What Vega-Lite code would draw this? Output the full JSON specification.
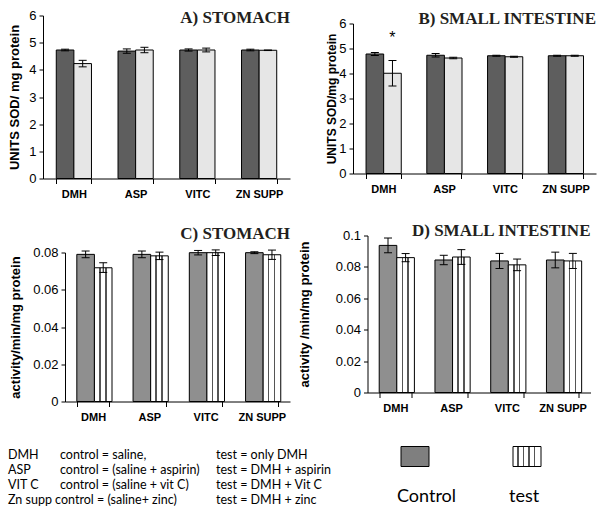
{
  "$schema": "https://vega.github.io/schema/vega-lite/v6.json",
  "padding": {"left": 8, "top": 8.5, "right": 3, "bottom": 2},
  "background": "white",
  "config": {
    "view": {"stroke": null},
    "font": "Liberation Sans",
    "axis": {"grid": false, "domainColor": "black", "tickColor": "black", "labelColor": "black", "titleColor": "black", "labelFont": "Liberation Sans", "titleFont": "Liberation Sans", "domainWidth": 1, "tickWidth": 1},
    "axisY": {"labelFontSize": 13, "tickSize": 4, "labelPadding": 3, "titleFontSize": 13, "titleFontWeight": "bold", "labelOverlap": false},
    "title": {"font": "Liberation Serif", "fontSize": 17, "fontWeight": "bold", "color": "#231f20", "anchor": "end", "frame": "group", "baseline": "alphabetic"}
  },
  "datasets": {
    "bars": [
      {"panel": "A", "drug": "DMH", "series": "control", "value": 4.73, "lo": 4.70, "hi": 4.76},
      {"panel": "A", "drug": "DMH", "series": "test", "value": 4.23, "lo": 4.11, "hi": 4.35},
      {"panel": "A", "drug": "ASP", "series": "control", "value": 4.69, "lo": 4.61, "hi": 4.77},
      {"panel": "A", "drug": "ASP", "series": "test", "value": 4.73, "lo": 4.63, "hi": 4.83},
      {"panel": "A", "drug": "VITC", "series": "control", "value": 4.73, "lo": 4.69, "hi": 4.77},
      {"panel": "A", "drug": "VITC", "series": "test", "value": 4.73, "lo": 4.66, "hi": 4.80},
      {"panel": "A", "drug": "ZN SUPP", "series": "control", "value": 4.73, "lo": 4.70, "hi": 4.76},
      {"panel": "A", "drug": "ZN SUPP", "series": "test", "value": 4.72, "lo": 4.71, "hi": 4.73},
      {"panel": "B", "drug": "DMH", "series": "control", "value": 4.78, "lo": 4.72, "hi": 4.84},
      {"panel": "B", "drug": "DMH", "series": "test", "value": 4.01, "lo": 3.50, "hi": 4.52},
      {"panel": "B", "drug": "ASP", "series": "control", "value": 4.73, "lo": 4.66, "hi": 4.80},
      {"panel": "B", "drug": "ASP", "series": "test", "value": 4.62, "lo": 4.59, "hi": 4.65},
      {"panel": "B", "drug": "VITC", "series": "control", "value": 4.71, "lo": 4.69, "hi": 4.73},
      {"panel": "B", "drug": "VITC", "series": "test", "value": 4.67, "lo": 4.65, "hi": 4.69},
      {"panel": "B", "drug": "ZN SUPP", "series": "control", "value": 4.71, "lo": 4.69, "hi": 4.73},
      {"panel": "B", "drug": "ZN SUPP", "series": "test", "value": 4.71, "lo": 4.69, "hi": 4.73},
      {"panel": "C", "drug": "DMH", "series": "control", "value": 0.079, "lo": 0.0772, "hi": 0.0808},
      {"panel": "C", "drug": "DMH", "series": "test", "value": 0.0718, "lo": 0.0693, "hi": 0.0745},
      {"panel": "C", "drug": "ASP", "series": "control", "value": 0.079, "lo": 0.0772, "hi": 0.0808},
      {"panel": "C", "drug": "ASP", "series": "test", "value": 0.0782, "lo": 0.0762, "hi": 0.0802},
      {"panel": "C", "drug": "VITC", "series": "control", "value": 0.0799, "lo": 0.0787, "hi": 0.0811},
      {"panel": "C", "drug": "VITC", "series": "test", "value": 0.0799, "lo": 0.0784, "hi": 0.0814},
      {"panel": "C", "drug": "ZN SUPP", "series": "control", "value": 0.0799, "lo": 0.0794, "hi": 0.0804},
      {"panel": "C", "drug": "ZN SUPP", "series": "test", "value": 0.0788, "lo": 0.0763, "hi": 0.0813},
      {"panel": "D", "drug": "DMH", "series": "control", "value": 0.0937, "lo": 0.089, "hi": 0.0984},
      {"panel": "D", "drug": "DMH", "series": "test", "value": 0.0859, "lo": 0.0833, "hi": 0.0885},
      {"panel": "D", "drug": "ASP", "series": "control", "value": 0.0844, "lo": 0.0814, "hi": 0.0874},
      {"panel": "D", "drug": "ASP", "series": "test", "value": 0.0863, "lo": 0.0816, "hi": 0.091},
      {"panel": "D", "drug": "VITC", "series": "control", "value": 0.0838, "lo": 0.079, "hi": 0.0886},
      {"panel": "D", "drug": "VITC", "series": "test", "value": 0.0813, "lo": 0.0776, "hi": 0.085},
      {"panel": "D", "drug": "ZN SUPP", "series": "control", "value": 0.0844, "lo": 0.0794, "hi": 0.0894},
      {"panel": "D", "drug": "ZN SUPP", "series": "test", "value": 0.0838, "lo": 0.079, "hi": 0.0886}
    ],
    "stars": [
      {"drug": "DMH", "series": "test", "value": 5.6, "label": "*"}
    ],
    "notes": [
      {"row": 1, "col": 1, "text": "DMH"},
      {"row": 1, "col": 2, "text": "control = saline,"},
      {"row": 1, "col": 3, "text": "test = only DMH"},
      {"row": 2, "col": 1, "text": "ASP"},
      {"row": 2, "col": 2, "text": "control = (saline + aspirin)"},
      {"row": 2, "col": 3, "text": "test = DMH + aspirin"},
      {"row": 3, "col": 1, "text": "VIT C"},
      {"row": 3, "col": 2, "text": "control = (saline + vit C)"},
      {"row": 3, "col": 3, "text": "test = DMH + Vit C"},
      {"row": 4, "col": 1, "text": "Zn supp control = (saline+ zinc)"},
      {"row": 4, "col": 3, "text": "test = DMH + zinc"}
    ],
    "legend": [
      {"series": "Control"},
      {"series": "test"}
    ]
  },
  "spacing": 22,
  "vconcat": [
    {
      "spacing": 35,
      "hconcat": [
        {
          "width": 247, "height": 163,
          "title": {"text": "A) STOMACH", "offset": -17.5},
          "data": {"name": "bars"},
          "transform": [{"filter": "datum.panel === 'A'"}],
          "encoding": {
            "x": {"field": "drug", "type": "nominal", "sort": ["DMH", "ASP", "VITC", "ZN SUPP"], "title": null, "scale": {"paddingInner": 0.43, "paddingOuter": 0.215}, "axis": {"labelAngle": 0, "tickBand": "extent", "labelFontWeight": "bold", "labelFontSize": 11, "labelPadding": 5, "tickSize": 5}},
            "xOffset": {"field": "series", "type": "nominal", "scale": {"domain": ["control", "test"], "paddingInner": 0, "paddingOuter": 0}}
          },
          "layer": [
            {"transform": [{"filter": "datum.series === 'control'"}], "mark": {"type": "bar", "fill": "#5e5e5e", "stroke": "black", "strokeWidth": 1, "opacity": 1}, "encoding": {"y": {"field": "value", "type": "quantitative", "title": "UNITS SOD/ mg protein", "scale": {"domain": [0, 6], "nice": false}, "axis": {"values": [0, 1, 2, 3, 4, 5, 6], "format": "~g", "titlePadding": 7}}}},
            {"transform": [{"filter": "datum.series === 'test'"}], "mark": {"type": "bar", "fill": "#e6e6e6", "stroke": "black", "strokeWidth": 1, "opacity": 1}, "encoding": {"y": {"field": "value", "type": "quantitative", "title": "UNITS SOD/ mg protein", "axis": {"values": [0, 1, 2, 3, 4, 5, 6], "format": "~g", "titlePadding": 7}}}},
            {"mark": {"type": "rule", "color": "black", "strokeWidth": 1, "opacity": 1}, "encoding": {"y": {"field": "lo", "type": "quantitative", "title": "UNITS SOD/ mg protein", "axis": {"values": [0, 1, 2, 3, 4, 5, 6], "format": "~g", "titlePadding": 7}}, "y2": {"field": "hi"}}},
            {"mark": {"type": "tick", "color": "black", "thickness": 1, "size": 8, "opacity": 1}, "encoding": {"y": {"field": "lo", "type": "quantitative", "title": "UNITS SOD/ mg protein", "axis": {"values": [0, 1, 2, 3, 4, 5, 6], "format": "~g", "titlePadding": 7}}}},
            {"mark": {"type": "tick", "color": "black", "thickness": 1, "size": 8, "opacity": 1}, "encoding": {"y": {"field": "hi", "type": "quantitative", "title": "UNITS SOD/ mg protein", "axis": {"values": [0, 1, 2, 3, 4, 5, 6], "format": "~g", "titlePadding": 7}}}}
          ]
        },
        {
          "width": 243, "height": 163,
          "title": {"text": "B) SMALL INTESTINE", "offset": -12},
          "data": {"name": "bars"},
          "transform": [{"filter": "datum.panel === 'B'"}],
          "encoding": {
            "x": {"field": "drug", "type": "nominal", "sort": ["DMH", "ASP", "VITC", "ZN SUPP"], "title": null, "scale": {"paddingInner": 0.43, "paddingOuter": 0.215}, "axis": {"labelAngle": 0, "tickBand": "extent", "labelFontWeight": "bold", "labelFontSize": 11, "labelPadding": 5, "tickSize": 5, "offset": -5}},
            "xOffset": {"field": "series", "type": "nominal", "scale": {"domain": ["control", "test"], "paddingInner": 0, "paddingOuter": 0}}
          },
          "layer": [
            {"transform": [{"filter": "datum.series === 'control'"}], "mark": {"type": "bar", "fill": "#5e5e5e", "stroke": "black", "strokeWidth": 1, "opacity": 1}, "encoding": {"y": {"field": "value", "type": "quantitative", "title": "UNITS SOD/mg protein", "scale": {"domain": [0, 6], "nice": false, "range": [158, 8]}, "axis": {"values": [0, 1, 2, 3, 4, 5, 6], "format": "~g", "titlePadding": 0, "titleFontSize": 12}}}},
            {"transform": [{"filter": "datum.series === 'test'"}], "mark": {"type": "bar", "fill": "#e6e6e6", "stroke": "black", "strokeWidth": 1, "opacity": 1}, "encoding": {"y": {"field": "value", "type": "quantitative", "title": "UNITS SOD/mg protein", "axis": {"values": [0, 1, 2, 3, 4, 5, 6], "format": "~g", "titlePadding": 0, "titleFontSize": 12}}}},
            {"mark": {"type": "rule", "color": "black", "strokeWidth": 1, "opacity": 1}, "encoding": {"y": {"field": "lo", "type": "quantitative", "title": "UNITS SOD/mg protein", "axis": {"values": [0, 1, 2, 3, 4, 5, 6], "format": "~g", "titlePadding": 0, "titleFontSize": 12}}, "y2": {"field": "hi"}}},
            {"mark": {"type": "tick", "color": "black", "thickness": 1, "size": 8, "opacity": 1}, "encoding": {"y": {"field": "lo", "type": "quantitative", "title": "UNITS SOD/mg protein", "axis": {"values": [0, 1, 2, 3, 4, 5, 6], "format": "~g", "titlePadding": 0, "titleFontSize": 12}}}},
            {"mark": {"type": "tick", "color": "black", "thickness": 1, "size": 8, "opacity": 1}, "encoding": {"y": {"field": "hi", "type": "quantitative", "title": "UNITS SOD/mg protein", "axis": {"values": [0, 1, 2, 3, 4, 5, 6], "format": "~g", "titlePadding": 0, "titleFontSize": 12}}}},
            {"data": {"name": "stars"}, "mark": {"type": "text", "fontSize": 16, "baseline": "middle", "dy": 4, "color": "black"}, "encoding": {"y": {"field": "value", "type": "quantitative", "title": "UNITS SOD/mg protein", "axis": {"values": [0, 1, 2, 3, 4, 5, 6], "format": "~g", "titlePadding": 0, "titleFontSize": 12}}, "text": {"field": "label"}}}
          ]
        }
      ]
    },
    {
      "spacing": 7.5,
      "hconcat": [
        {
          "width": 247, "height": 166,
          "title": {"text": "C) STOMACH", "offset": -7},
          "data": {"name": "bars"},
          "transform": [{"filter": "datum.panel === 'C'"}],
          "encoding": {
            "x": {"field": "drug", "type": "nominal", "sort": ["DMH", "ASP", "VITC", "ZN SUPP"], "title": null, "scale": {"range": [22, 247], "paddingInner": 0.42, "paddingOuter": 0.21}, "axis": {"labelAngle": 0, "tickBand": "extent", "labelFontWeight": "bold", "labelFontSize": 11, "labelPadding": 5, "tickSize": 5}},
            "xOffset": {"field": "series", "type": "nominal", "scale": {"domain": ["control", "test"], "paddingInner": 0, "paddingOuter": 0}}
          },
          "layer": [
            {"transform": [{"filter": "datum.series === 'control'"}], "mark": {"type": "bar", "fill": "#8f8f8f", "stroke": "black", "strokeWidth": 1, "opacity": 1}, "encoding": {"y": {"field": "value", "type": "quantitative", "title": "activity/min/mg protein", "scale": {"domain": [0, 0.08], "nice": false, "range": [166, 17]}, "axis": {"values": [0, 0.02, 0.04, 0.06, 0.08], "format": "~g", "titlePadding": 10, "offset": -22}}}},
            {"transform": [{"filter": "datum.series === 'test'"}], "mark": {"type": "bar", "fill": {"gradient": "linear", "x1": 0, "y1": 0, "x2": 1, "y2": 0, "stops": [{"offset": 0, "color": "#ffffff"}, {"offset": 0.27, "color": "#ffffff"}, {"offset": 0.27, "color": "#555555"}, {"offset": 0.36, "color": "#555555"}, {"offset": 0.36, "color": "#ffffff"}, {"offset": 0.6, "color": "#ffffff"}, {"offset": 0.6, "color": "#555555"}, {"offset": 0.69, "color": "#555555"}, {"offset": 0.69, "color": "#ffffff"}, {"offset": 1, "color": "#ffffff"}]}, "stroke": "black", "strokeWidth": 1, "opacity": 1}, "encoding": {"y": {"field": "value", "type": "quantitative", "title": "activity/min/mg protein", "axis": {"values": [0, 0.02, 0.04, 0.06, 0.08], "format": "~g", "titlePadding": 10, "offset": -22}}}},
            {"mark": {"type": "rule", "color": "black", "strokeWidth": 1, "opacity": 1}, "encoding": {"y": {"field": "lo", "type": "quantitative", "title": "activity/min/mg protein", "axis": {"values": [0, 0.02, 0.04, 0.06, 0.08], "format": "~g", "titlePadding": 10, "offset": -22}}, "y2": {"field": "hi"}}},
            {"mark": {"type": "tick", "color": "black", "thickness": 1, "size": 8, "opacity": 1}, "encoding": {"y": {"field": "lo", "type": "quantitative", "title": "activity/min/mg protein", "axis": {"values": [0, 0.02, 0.04, 0.06, 0.08], "format": "~g", "titlePadding": 10, "offset": -22}}}},
            {"mark": {"type": "tick", "color": "black", "thickness": 1, "size": 8, "opacity": 1}, "encoding": {"y": {"field": "hi", "type": "quantitative", "title": "activity/min/mg protein", "axis": {"values": [0, 0.02, 0.04, 0.06, 0.08], "format": "~g", "titlePadding": 10, "offset": -22}}}}
          ]
        },
        {
          "width": 223, "height": 166,
          "title": {"text": "D) SMALL INTESTINE", "offset": -10},
          "data": {"name": "bars"},
          "transform": [{"filter": "datum.panel === 'D'"}],
          "encoding": {
            "x": {"field": "drug", "type": "nominal", "sort": ["DMH", "ASP", "VITC", "ZN SUPP"], "title": null, "scale": {"paddingInner": 0.42, "paddingOuter": 0.21}, "axis": {"labelAngle": 0, "tickBand": "extent", "labelFontWeight": "bold", "labelFontSize": 11, "labelPadding": 5, "tickSize": 5, "offset": -9}},
            "xOffset": {"field": "series", "type": "nominal", "scale": {"domain": ["control", "test"], "paddingInner": 0, "paddingOuter": 0}}
          },
          "layer": [
            {"transform": [{"filter": "datum.series === 'control'"}], "mark": {"type": "bar", "fill": "#8f8f8f", "stroke": "black", "strokeWidth": 1, "opacity": 1}, "encoding": {"y": {"field": "value", "type": "quantitative", "title": "activity /min/mg protein", "scale": {"domain": [0, 0.1], "nice": false, "range": [157, 0]}, "axis": {"values": [0, 0.02, 0.04, 0.06, 0.08, 0.1], "format": "~g", "titlePadding": 24}}}},
            {"transform": [{"filter": "datum.series === 'test'"}], "mark": {"type": "bar", "fill": {"gradient": "linear", "x1": 0, "y1": 0, "x2": 1, "y2": 0, "stops": [{"offset": 0, "color": "#ffffff"}, {"offset": 0.27, "color": "#ffffff"}, {"offset": 0.27, "color": "#555555"}, {"offset": 0.36, "color": "#555555"}, {"offset": 0.36, "color": "#ffffff"}, {"offset": 0.6, "color": "#ffffff"}, {"offset": 0.6, "color": "#555555"}, {"offset": 0.69, "color": "#555555"}, {"offset": 0.69, "color": "#ffffff"}, {"offset": 1, "color": "#ffffff"}]}, "stroke": "black", "strokeWidth": 1, "opacity": 1}, "encoding": {"y": {"field": "value", "type": "quantitative", "title": "activity /min/mg protein", "axis": {"values": [0, 0.02, 0.04, 0.06, 0.08, 0.1], "format": "~g", "titlePadding": 24}}}},
            {"mark": {"type": "rule", "color": "black", "strokeWidth": 1, "opacity": 1}, "encoding": {"y": {"field": "lo", "type": "quantitative", "title": "activity /min/mg protein", "axis": {"values": [0, 0.02, 0.04, 0.06, 0.08, 0.1], "format": "~g", "titlePadding": 24}}, "y2": {"field": "hi"}}},
            {"mark": {"type": "tick", "color": "black", "thickness": 1, "size": 8, "opacity": 1}, "encoding": {"y": {"field": "lo", "type": "quantitative", "title": "activity /min/mg protein", "axis": {"values": [0, 0.02, 0.04, 0.06, 0.08, 0.1], "format": "~g", "titlePadding": 24}}}},
            {"mark": {"type": "tick", "color": "black", "thickness": 1, "size": 8, "opacity": 1}, "encoding": {"y": {"field": "hi", "type": "quantitative", "title": "activity /min/mg protein", "axis": {"values": [0, 0.02, 0.04, 0.06, 0.08, 0.1], "format": "~g", "titlePadding": 24}}}}
          ]
        }
      ]
    },
    {
      "spacing": 0,
      "hconcat": [
        {
          "width": 300, "height": 60,
          "data": {"name": "notes"},
          "mark": {"type": "text", "align": "left", "baseline": "middle", "font": "Lato", "fontSize": 12.5, "color": "black"},
          "encoding": {
            "x": {"field": "col", "type": "quantitative", "scale": {"domain": [1, 2, 3], "range": [-35, 17, 173], "nice": false, "zero": false}, "axis": null},
            "y": {"field": "row", "type": "ordinal", "scale": {"type": "point", "range": [8, 53], "padding": 0}, "axis": null},
            "text": {"field": "text"}
          }
        },
        {
          "width": 250, "height": 20,
          "data": {"name": "legend"},
          "encoding": {
            "x": {"field": "series", "type": "nominal", "scale": {"type": "point", "domain": ["Control", "test"], "range": [72, 184], "padding": 0}, "axis": null}
          },
          "layer": [
            {"transform": [{"filter": "datum.series === 'Control'"}], "mark": {"type": "point", "shape": "M-1.4,-1H1.4V1H-1.4Z", "size": 400, "filled": true, "fill": "#7f7f7f", "stroke": "black", "strokeWidth": 1, "opacity": 1, "fillOpacity": 1}},
            {"transform": [{"filter": "datum.series === 'test'"}], "mark": {"type": "point", "shape": "M-1.4,-1H1.4V1H-1.4Z", "size": 400, "filled": true, "fill": {"gradient": "linear", "x1": 0, "y1": 0, "x2": 1, "y2": 0, "stops": [{"offset": 0, "color": "#ffffff"}, {"offset": 0.14, "color": "#ffffff"}, {"offset": 0.14, "color": "#555555"}, {"offset": 0.2, "color": "#555555"}, {"offset": 0.2, "color": "#ffffff"}, {"offset": 0.34, "color": "#ffffff"}, {"offset": 0.34, "color": "#555555"}, {"offset": 0.4, "color": "#555555"}, {"offset": 0.4, "color": "#ffffff"}, {"offset": 0.54, "color": "#ffffff"}, {"offset": 0.54, "color": "#555555"}, {"offset": 0.6, "color": "#555555"}, {"offset": 0.6, "color": "#ffffff"}, {"offset": 0.74, "color": "#ffffff"}, {"offset": 0.74, "color": "#555555"}, {"offset": 0.8, "color": "#555555"}, {"offset": 0.8, "color": "#ffffff"}, {"offset": 1, "color": "#ffffff"}]}, "stroke": "black", "strokeWidth": 1, "opacity": 1, "fillOpacity": 1}},
            {"mark": {"type": "text", "align": "left", "baseline": "middle", "dx": -18, "dy": 40, "font": "Lato", "fontSize": 18, "color": "black"}, "encoding": {"text": {"field": "series"}}}
          ]
        }
      ]
    }
  ]
}
